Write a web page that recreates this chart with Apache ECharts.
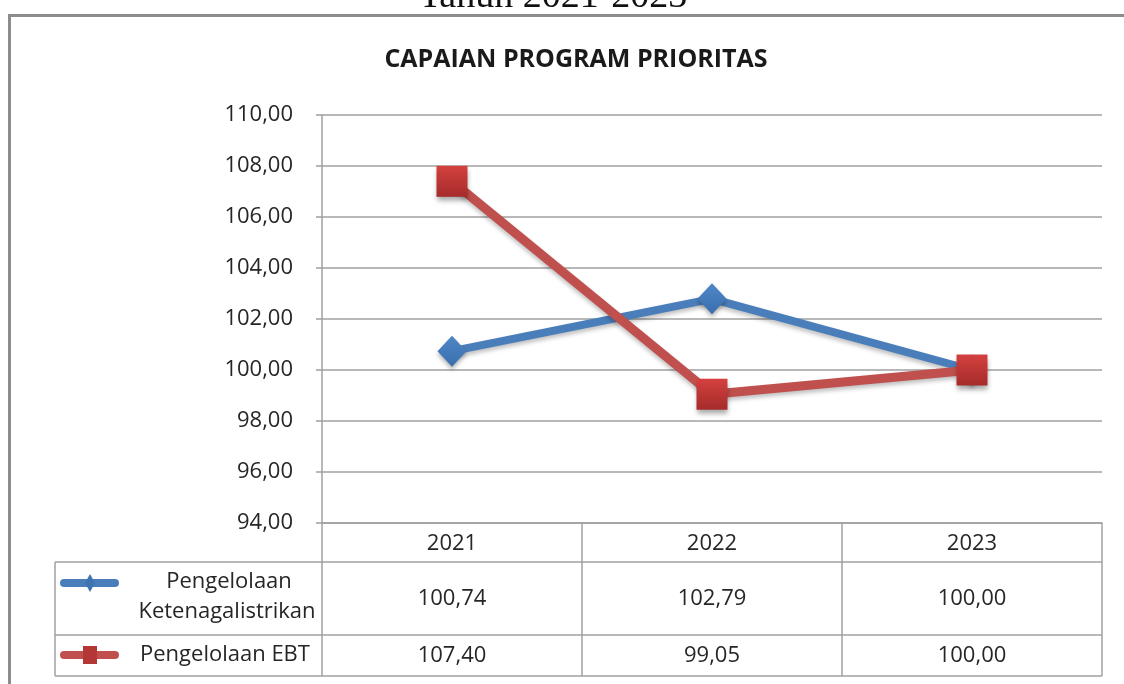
<!DOCTYPE html>
<html>
<head>
<meta charset="utf-8">
<script src="https://cdn.jsdelivr.net/npm/echarts@6/dist/echarts.min.js"></script>
<style>
html,body{margin:0;padding:0;background:#fff;}
#chart{width:1124px;height:684px;}
</style>
</head>
<body>
<div id="chart"></div>
<script>
var pageHeading = 'Tahun 2021-2023';
var chartTitle = 'CAPAIAN PROGRAM PRIORITAS';
var years = ['2021', '2022', '2023'];
var seriesNames = ['Pengelolaan Ketenagalistrikan', 'Pengelolaan EBT'];
var ketenagalistrikan = [100.74, 102.79, 100.00];
var ebt = [107.40, 99.05, 100.00];
var yTicks = {min: 94, max: 110, interval: 2};

var FONT = '"Open Sans", "Noto Sans", sans-serif';
var TXT = '#262626';
var GRIDC = '#a0a0a0';
var BLUE = '#4a7ebb';
var RED = '#c0504d';

function fmt(v) { return v.toFixed(2).replace('.', ','); }

var chart = echarts.init(document.getElementById('chart'), null, {renderer: 'canvas'});

var option = {
  animation: false,
  backgroundColor: '#fff',
  title: {
    text: chartTitle,
    left: 571, top: 42, textAlign: 'center',
    textStyle: {fontFamily: FONT, fontSize: 25, fontWeight: 'bold', color: '#1a1a1a'}
  },
  grid: {left: 322, right: 22, top: 115, bottom: 161, containLabel: false},
  xAxis: {
    type: 'category',
    data: years,
    boundaryGap: true,
    axisLine: {show: true, lineStyle: {color: GRIDC, width: 1.5}},
    axisTick: {show: false},
    axisLabel: {margin: 10, fontFamily: FONT, fontSize: 22, color: TXT}
  },
  yAxis: {
    type: 'value',
    min: yTicks.min, max: yTicks.max, interval: yTicks.interval,
    axisLine: {show: true, lineStyle: {color: GRIDC, width: 1.5}},
    axisTick: {show: true, length: 6, lineStyle: {color: GRIDC, width: 1.5}},
    splitLine: {show: true, lineStyle: {color: GRIDC, width: 1.5}},
    axisLabel: {margin: 29, fontFamily: FONT, fontSize: 22, color: TXT, formatter: function (v) { return fmt(v); }}
  },
  series: [
    {
      name: seriesNames[0], type: 'line', data: ketenagalistrikan, z: 2,
      symbol: 'diamond', symbolSize: [29, 31],
      lineStyle: {color: BLUE, width: 8, shadowColor: 'rgba(0,0,0,0.25)', shadowBlur: 4, shadowOffsetY: 3},
      itemStyle: {color: {type: 'linear', x: 0, y: 0, x2: 0, y2: 1, colorStops: [{offset: 0, color: '#4f86c6'}, {offset: 1, color: '#3a6fae'}]},
        shadowColor: 'rgba(0,0,0,0.3)', shadowBlur: 4, shadowOffsetY: 3}
    },
    {
      name: seriesNames[1], type: 'line', data: ebt, z: 3,
      symbol: 'rect', symbolSize: 31,
      lineStyle: {color: RED, width: 9, shadowColor: 'rgba(0,0,0,0.25)', shadowBlur: 4, shadowOffsetY: 3},
      itemStyle: {color: {type: 'linear', x: 0, y: 0, x2: 0, y2: 1, colorStops: [{offset: 0, color: '#d4413f'}, {offset: 1, color: '#a52b2a'}]},
        shadowColor: 'rgba(0,0,0,0.35)', shadowBlur: 5, shadowOffsetY: 4}
    }
  ]
};
chart.setOption(option);

// Build frame, heading and data table using the axis scale positions
var centers = years.map(function (y, i) { return chart.convertToPixel({xAxisIndex: 0}, i); });
var band = centers[1] - centers[0];
var edges = centers.map(function (c) { return c - band / 2; });
edges.push(centers[centers.length - 1] + band / 2);
var axisY = chart.convertToPixel({yAxisIndex: 0}, yTicks.min);
var tableLeft = 55;
var rowTops = [axisY, 562, 635, 676];
var right = edges[edges.length - 1];

var g = [];
// cropped heading above the frame
g.push({type: 'text', x: 553, y: 16, style: {text: pageHeading, align: 'center', verticalAlign: 'bottom',
  font: '38px "Liberation Serif", "DejaVu Serif", serif', fill: '#111'}, z: 8});
g.push({type: 'rect', shape: {x: 0, y: 9, width: 1124, height: 6}, style: {fill: '#fff'}, z: 9});
// outer frame (chart area border)
g.push({type: 'polyline', shape: {points: [[9.5, 700], [9.5, 15.5], [1140, 15.5]]},
  style: {stroke: '#8c8c8c', lineWidth: 3, fill: null}, z: 10});

var lineStyle = {stroke: GRIDC, lineWidth: 1.5};
// vertical lines
edges.forEach(function (x) {
  g.push({type: 'line', shape: {x1: x, y1: axisY, x2: x, y2: rowTops[3]}, style: lineStyle, z: 5});
});
g.push({type: 'line', shape: {x1: tableLeft, y1: rowTops[1], x2: tableLeft, y2: rowTops[3]}, style: lineStyle, z: 5});
// horizontal lines
[1, 2, 3].forEach(function (r) {
  g.push({type: 'line', shape: {x1: tableLeft, y1: rowTops[r], x2: right, y2: rowTops[r]}, style: lineStyle, z: 5});
});

var tFont = '22px ' + FONT;
// row values
var rows = [ketenagalistrikan, ebt];
rows.forEach(function (vals, r) {
  var cy = (rowTops[r + 1] + rowTops[r + 2]) / 2;
  vals.forEach(function (v, i) {
    g.push({type: 'text', x: centers[i], y: cy, style: {text: fmt(v), align: 'center', verticalAlign: 'middle', font: tFont, fill: TXT}, z: 6});
  });
});
// legend keys
var k1y = 583, k2y = 655;
g.push({type: 'line', shape: {x1: 64, y1: k1y, x2: 115, y2: k1y}, style: {stroke: BLUE, lineWidth: 8, lineCap: 'round'}, z: 6});
g.push({type: 'polygon', shape: {points: [[90, k1y - 9], [95, k1y], [90, k1y + 9], [85, k1y]]}, style: {fill: '#3f74b3'}, z: 7});
g.push({type: 'line', shape: {x1: 64, y1: k2y, x2: 115, y2: k2y}, style: {stroke: RED, lineWidth: 8, lineCap: 'round'}, z: 6});
g.push({type: 'rect', shape: {x: 83, y: k2y - 9, width: 14, height: 18}, style: {fill: '#b53735'}, z: 7});
// series names
var nameParts = seriesNames[0].split(' ');
g.push({type: 'text', x: 229, y: 582, style: {text: nameParts[0], align: 'center', verticalAlign: 'middle', font: tFont, fill: TXT}, z: 6});
g.push({type: 'text', x: 227, y: 612, style: {text: nameParts[1], align: 'center', verticalAlign: 'middle', font: tFont, fill: TXT}, z: 6});
g.push({type: 'text', x: 140, y: 655, style: {text: seriesNames[1], align: 'left', verticalAlign: 'middle', font: tFont, fill: TXT}, z: 6});

chart.setOption({graphic: g});
</script>
</body>
</html>
